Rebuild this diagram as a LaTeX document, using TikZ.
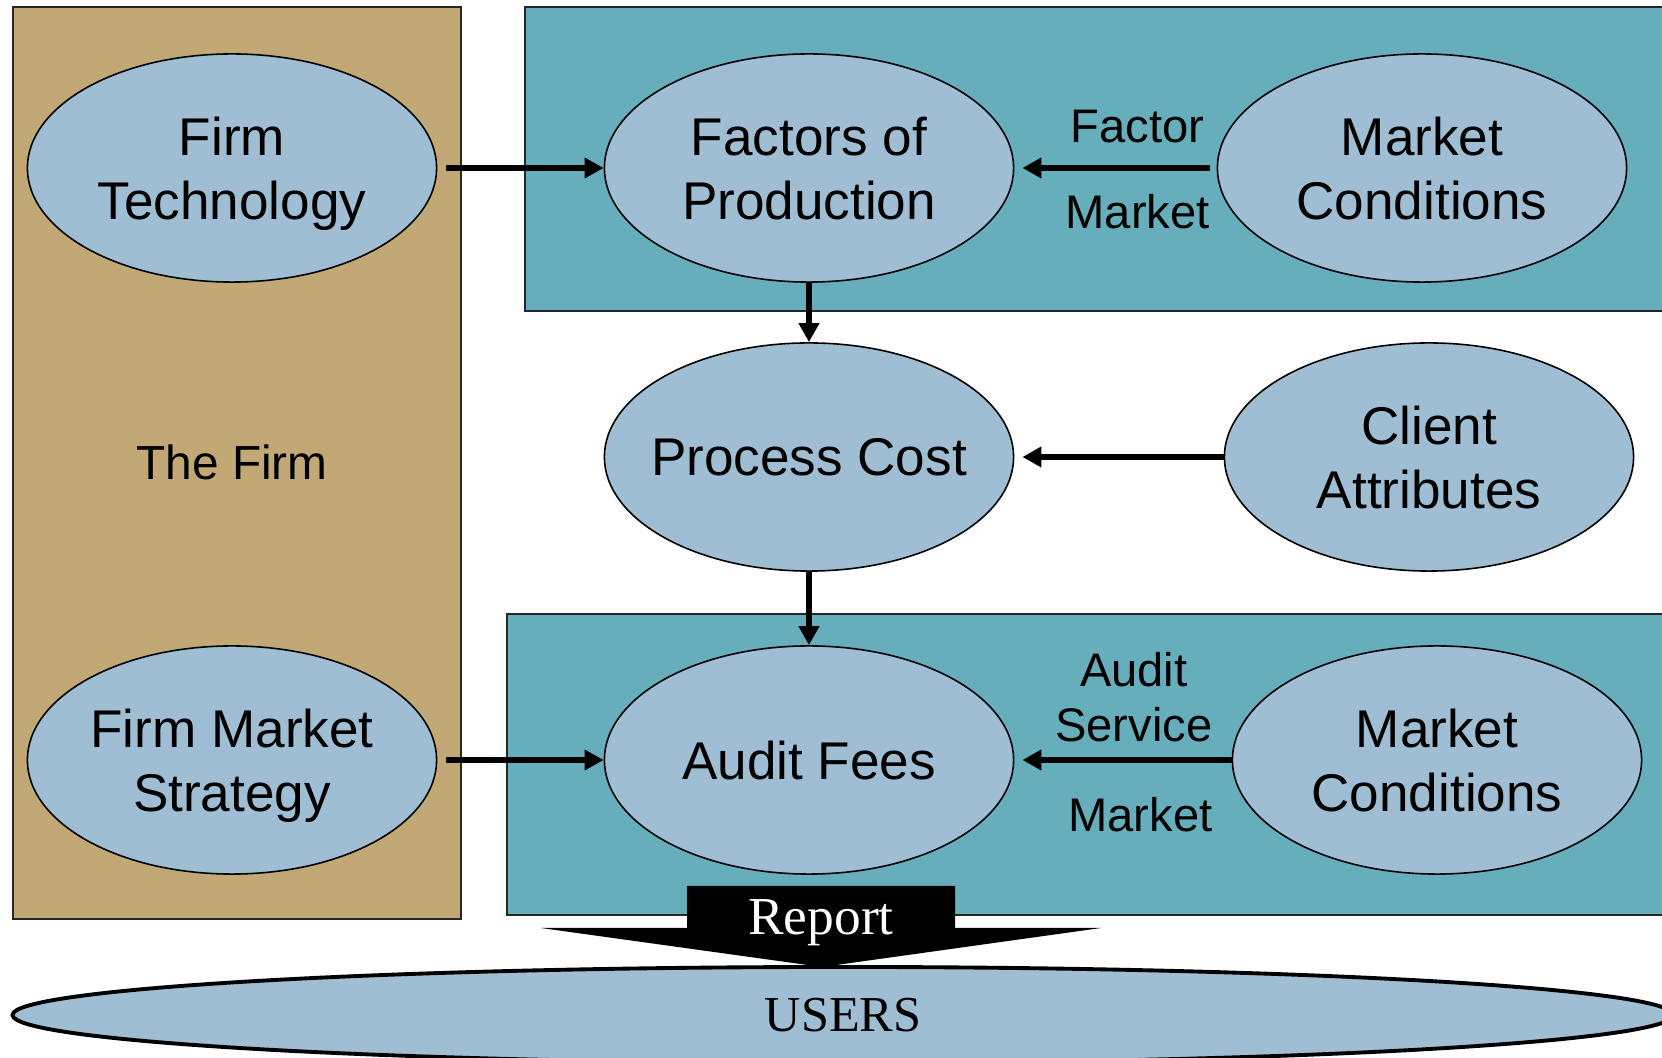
\documentclass[tikz,border=0pt]{standalone}
\usepackage{fontspec}
\setmainfont{Liberation Serif}
\setsansfont{Liberation Sans}
\usetikzlibrary{arrows.meta,shapes.geometric}

\definecolor{firmtan}{RGB}{194,168,117}
\definecolor{mktteal}{RGB}{103,174,188}
\definecolor{bubble}{RGB}{159,190,211}

\begin{document}
\begin{tikzpicture}[x=0.01cm,y=-0.01cm,->,>={Triangle[length=5.4pt,width=5.6pt]},
  line width=1.85pt,
  main node/.style={ellipse,draw,line width=0.45pt,fill=bubble,minimum width=4.09cm,
    minimum height=2.28cm,inner sep=0pt,inner xsep=-6mm,align=center,text depth=0pt,
    font=\sffamily\fontsize{15.1}{18.2}\selectfont},
  panel/.style={-,draw=black!85,line width=0.5pt},
  tag/.style={font=\sffamily\fontsize{13.4}{15.9}\selectfont,align=center,anchor=base}]
  \useasboundingbox (0,0) rectangle (1662,1058);

  % panels
  \path[panel,fill=firmtan] (13,7) rectangle (461,919);
  \path[panel,fill=mktteal] (525,7) rectangle (1680,311);
  \path[panel,fill=mktteal] (507,614) rectangle (1680,915);
  \node[font=\sffamily\fontsize{13.6}{16}\selectfont] (firm) at (232,462) {The Firm};

  \node[main node] (tech) at (232,168) {Firm\\Technology};
  \node[main node] (factors) at (809,168) {Factors of\\Production};
  \node[main node] (mkt1) at (1422,168) {Market\\Conditions};
  \node[main node] (process) at (809,457) {Process Cost};
  \node[main node] (client) at (1429,457) {Client\\Attributes};
  \node[main node] (strategy) at (232,760) {Firm Market\\Strategy};
  \node[main node] (fees) at (809,760) {Audit Fees};
  \node[main node] (mkt2) at (1437,760) {Market\\Conditions};

  \path
    (tech) edge[shorten <=0.09cm] (factors)
    (strategy) edge[shorten <=0.09cm] (fees)
    (factors) edge (process)
    (process) edge (fees)
    (client) edge[shorten >=0.08cm] (process)
    (mkt1) edge[shorten <=0.07cm,shorten >=0.08cm]
      node[tag,pos=.39,yshift=0.25cm] {Factor}
      node[tag,pos=.39,yshift=-0.60cm] {Market} (factors)
    (mkt2) edge[shorten >=0.08cm]
      node[tag,pos=.45,yshift=0.18cm] {Audit\\Service}
      node[tag,pos=.42,yshift=-0.71cm] {Market} (fees);

  % users and the report arrow
  \node[ellipse,draw,line width=1.1pt,fill=bubble,minimum width=16.6cm,minimum height=0.96cm,
    font=\fontsize{14.3}{17}\selectfont] (users) at (843,1015) {USERS};
  \fill[-] (687,886) -- (955,886) -- (955,928) -- (1101,928) -- (822,967)
    -- (541,928) -- (687,928) -- cycle;
  \node[text=white,anchor=base,font=\fontsize{15.2}{17}\selectfont] (report) at (821,935) {Report};
\end{tikzpicture}
\end{document}
